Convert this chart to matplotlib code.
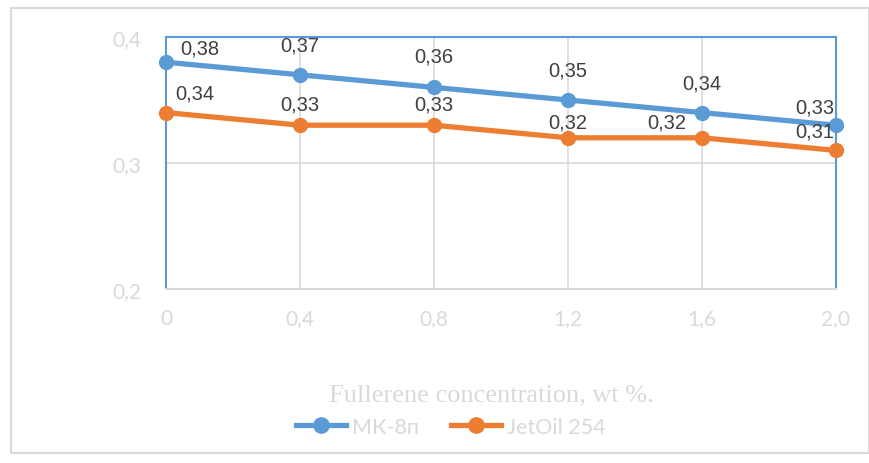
import matplotlib
matplotlib.use("Agg")
import matplotlib.pyplot as plt
from matplotlib.patches import Rectangle

# data
conc = [0, 0.4, 0.8, 1.2, 1.6, 2.0]
conc_labels = ["0", "0,4", "0,8", "1,2", "1,6", "2,0"]
mk8p = [0.38, 0.37, 0.36, 0.35, 0.34, 0.33]
jetoil = [0.34, 0.33, 0.33, 0.32, 0.32, 0.31]
y_ticks = [0.2, 0.3, 0.4]
y_labels = ["0,2", "0,3", "0,4"]

blue = "#5b9bd5"
orange = "#ed7d31"
grey = "#d9d9d9"

plt.rcParams['font.family'] = ['Lato', 'DejaVu Sans']

fig = plt.figure(figsize=(8.7, 4.64), dpi=100)
ax = fig.add_axes([166/870, 1-290/464, (836-166)/870, (290-38)/464])

ax.plot(conc, mk8p, color=blue, lw=3.8, marker="o", ms=10, label="МК-8п",
        clip_on=False, zorder=3)
ax.plot(conc, jetoil, color=orange, lw=3.8, marker="o", ms=10, label="JetOil 254",
        clip_on=False, zorder=3)

# label offsets (pixels) to mimic the reference placement
off_blue = [(34, 14), (0, 30), (0, 31), (0, 30), (0, 30), (-21, 18)]
off_orange = [(29, 20), (0, 21), (0, 21), (0, 16), (-35, 16), (-21, 19)]
for x, y, o in zip(conc, mk8p, off_blue):
    ax.annotate(f"{y:.2f}".replace(".", ","), (x, y), xytext=o, textcoords="offset pixels",
                ha="center", va="center", fontsize=14.5, color="#404040", zorder=4,
                family="Liberation Sans")
for x, y, o in zip(conc, jetoil, off_orange):
    ax.annotate(f"{y:.2f}".replace(".", ","), (x, y), xytext=o, textcoords="offset pixels",
                ha="center", va="center", fontsize=14.5, color="#404040", zorder=4,
                family="Liberation Sans")

ax.set_xlim(0, 2.0)
ax.set_ylim(0.2, 0.4)
ax.set_xticks(conc)
ax.set_xticklabels(conc_labels)
ax.set_yticks(y_ticks)
ax.set_yticklabels(y_labels)
ax.tick_params(length=0, colors=grey, labelsize=15, pad=14)
ax.tick_params(axis="y", pad=18)
ax.grid(True, color=grey, lw=1.2)
ax.set_axisbelow(True)

for s in ["top", "left", "right"]:
    ax.spines[s].set_color(blue)
    ax.spines[s].set_linewidth(1.5)
ax.spines["bottom"].set_color(grey)
ax.spines["bottom"].set_linewidth(1.5)

fig.text(491/870, 1-395/464, "Fullerene concentration, wt %.", ha="center", va="center",
         fontsize=19, color=grey, family="Liberation Serif")

fig.legend(loc="center", bbox_to_anchor=(451/870, 1-428/464), ncol=2, frameon=False,
           fontsize=15.5, labelcolor=grey, handlelength=2.3, columnspacing=1.5,
           handletextpad=0.3, markerscale=1.1)

fig.patches.append(Rectangle((11/870, 1-454/464), 858/870, 445/464, transform=fig.transFigure,
                             fill=False, edgecolor=grey, lw=1.5))

fig.savefig("out.png", dpi=100)
